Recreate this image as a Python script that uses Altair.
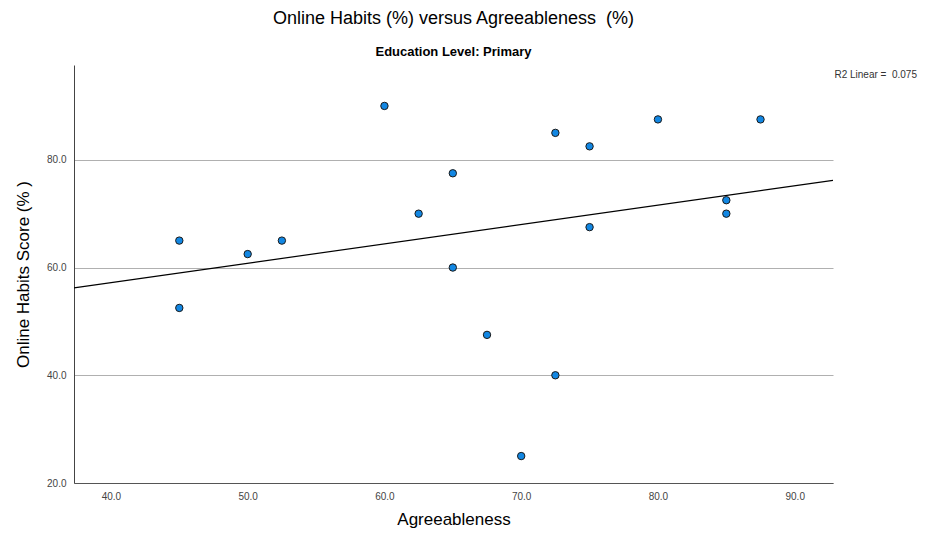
import altair as alt
import pandas as pd

agree = [45, 45, 50, 52.5, 60, 62.5, 65, 65, 67.5, 70, 72.5, 72.5, 75, 75, 80, 85, 85, 87.5]
habits = [65, 52.5, 62.5, 65, 90, 70, 77.5, 60, 47.5, 25, 85, 40, 82.5, 67.5, 87.5, 72.5, 70, 87.5]
x_ticks = [40, 50, 60, 70, 80, 90]
y_ticks = [20, 40, 60, 80]
r2_label = "R2 Linear =\u00a0\u00a00.075"

df = pd.DataFrame({"Agreeableness": agree, "Habits": habits})

W, H = 759, 418
FONT = "Liberation Sans"
xdom = [37.3, 92.8]
ydom = [20, 97.6]

xs = alt.Scale(domain=xdom, nice=False, zero=False)
ys = alt.Scale(domain=ydom, nice=False, zero=False)

base = alt.Chart(df)

points = base.mark_point(
    filled=True, size=55, fill="#1287e3", stroke="#1a1a1a", strokeWidth=1, opacity=1
).encode(
    x=alt.X("Agreeableness:Q", scale=xs, title="Agreeableness",
            axis=alt.Axis(values=x_ticks, format=".1f", grid=False, ticks=False,
                          domainColor="#555555", labelColor="#444444", labelFont=FONT,
                          labelFontSize=10, labelPadding=8, titleFont=FONT,
                          titleFontSize=17, titleFontWeight="normal", titleColor="#000000",
                          titlePadding=10)),
    y=alt.Y("Habits:Q", scale=ys, title="Online Habits Score (% )",
            axis=alt.Axis(values=y_ticks, format=".1f", grid=True, gridColor="#b0b0b0",
                          gridWidth=1, ticks=False, domainColor="#444444",
                          labelColor="#444444", labelFont=FONT, labelFontSize=10,
                          labelPadding=8, titleFont=FONT, titleFontSize=17,
                          titleFontWeight="normal", titleColor="#000000", titlePadding=14)),
)

line = base.transform_regression(
    "Agreeableness", "Habits", extent=xdom
).mark_line(color="#000000", strokeWidth=1.2, clip=True).encode(
    x=alt.X("Agreeableness:Q", scale=xs),
    y=alt.Y("Habits:Q", scale=ys),
)

r2 = alt.Chart(pd.DataFrame({"t": [r2_label]})).mark_text(
    align="right", baseline="middle", font=FONT, fontSize=10, color="#333333"
).encode(x=alt.value(W + 84), y=alt.value(10), text="t:N")

chart = alt.layer(line, points, r2).properties(
    width=W, height=H,
    title=alt.TitleParams(
        text="Online Habits (%) versus Agreeableness\u00a0\u00a0(%)",
        subtitle="Education Level: Primary",
        font=FONT, fontSize=18, fontWeight="normal", color="#000000",
        subtitleFont=FONT, subtitleFontSize=13, subtitleFontWeight="bold",
        subtitleColor="#000000", subtitlePadding=18, anchor="middle", offset=6,
    ),
    autosize=alt.AutoSizeParams(type="none"),
    padding={"left": 66, "top": 57, "right": 86, "bottom": 47},
).configure_view(stroke=None)

chart.save("out.html", embed_options={"renderer": "svg", "actions": False})
